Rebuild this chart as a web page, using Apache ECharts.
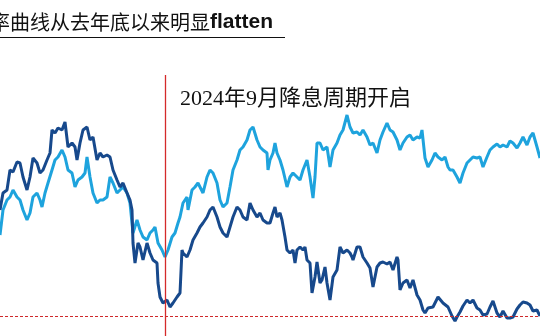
<!DOCTYPE html>
<html>
<head>
<meta charset="utf-8">
<script src="https://cdn.jsdelivr.net/npm/echarts@6/dist/echarts.min.js"></script>
<style>html,body{margin:0;padding:0;background:#fff;}#c{width:540px;height:336px;}</style>
</head>
<body>
<div id="c"></div>
<script>
// trading-day index and spread (bp)
var darkDays = [0,3,7,10,13,17,20,23,27,30,
33,37,40,43,47,50,52,55,58,62,
65,68,72,75,77,80,83,87,90,93,
97,100,103,107,110,113,117,120,123,127,
130,132,133,135,138,140,143,147,150,153,
157,158,160,163,167,170,173,177,180,182,
183,187,190,193,197,200,203,207,210,213,
217,220,223,227,230,233,237,240,243,247,
250,253,257,260,263,267,270,273,275,277,
280,282,285,287,290,293,295,297,300,303,
305,307,310,312,315,317,320,322,325,327,
330,333,337,340,343,347,350,352,353,357,
360,363,367,370,373,377,380,383,387,390,
393,397,398,400,403,407,410,413,417,420,
423,425,428,433,438,443,448,452,455,457,
460,463,467,470,473,475,477,480,483,487,
490,493,497,500,503,507,510,513,517,520,
523,527,530,533,537,540];
var darkSpread = [60,68.5,70,80,79,84,83.5,76.5,70,76.5,
86,83.5,78.5,80,85,88.5,100,98.5,101,100,
104,91.5,93.5,91.5,85,93.5,100,101.5,95,96.5,
85,88.5,86.5,87.5,86.5,80,75,71.5,73.5,68.5,
65,60,43.5,33.5,43.5,41.5,35,43.5,38.5,35,
33.5,23.5,16.5,13.5,15,11.5,13.5,16.5,18.5,40,
38.5,36.5,40,45,48.5,51.5,53.5,56.5,60,61.5,
56.5,51.5,48.5,46.5,51.5,56.5,61.5,60,56.5,55,
63.5,60,56.5,58.5,55,53.5,53.5,58.5,61.5,56.5,
58.5,55,46.5,40,38.5,40,33.5,40,41.5,40,
41.5,35,33.5,18.5,26.5,34,23.5,25,31.5,23.5,
15,26.5,30,41.5,38.5,40,38.5,36.5,35,41.5,
41.5,36.5,33.5,31,21.5,31.5,33.5,34,33,34,
30,36.5,35,20,23.5,25,21,25,17.5,15,
10,8.5,11,11.5,16.5,13.5,11.5,7,4.5,6.5,
9,12,15,13.5,15,15,11,10,7.5,8,
11.5,14.5,8.5,6.5,9.5,6,6,6.5,10.5,12.5,
14,13.5,12.5,9.5,10,7];
var lightDays = [0,3,7,10,13,17,20,23,27,30,
33,37,40,42,45,48,52,55,58,62,
65,68,72,75,78,82,85,87,90,93,
97,100,103,107,110,113,117,120,123,127,
130,133,137,140,143,147,150,153,155,158,
162,165,168,172,175,178,180,183,187,188,
192,195,198,200,203,207,210,213,217,220,
223,227,230,233,237,240,243,247,250,253,
257,260,263,267,268,270,273,275,277,280,
283,287,290,293,297,300,303,307,310,313,
315,317,320,323,327,330,333,337,340,343,
347,350,353,357,360,363,367,370,373,377,
380,383,387,390,393,397,400,403,407,410,
413,417,420,422,425,428,432,435,438,442,
445,448,450,453,457,460,463,467,470,473,
477,480,483,487,490,493,497,500,503,507,
510,513,517,520,523,527,530,533,537,540];
var lightSpread = [47.5,60,65,66.5,70,66.5,65,60,55,58.5,
66.5,68.5,65,61.5,68.5,73.5,80,85,86.5,90,
86.5,80,78.5,71.5,75,76.5,78.5,86.5,76.5,68.5,
63.5,65,65,66.5,76.5,73.5,68.5,70,71.5,68.5,
63.5,48.5,55,50,46.5,45,48.5,50,51.5,43.5,
40,36.5,40,46.5,48.5,53.5,56.5,63.5,66.5,60,
70,71.5,73.5,71.5,68.5,76.5,80,78.5,73.5,65,
61.5,63.5,71.5,80,85,90,91.5,95,100,101.5,
95,91.5,90,88.5,80,85,88.5,93.5,88.5,85,
80,71.5,76.5,78.5,76.5,75,80,85,76.5,66,
76.5,93.5,93.5,90,91.5,81.5,90,93.5,97.5,100,
107.5,101.5,98.5,99,97.5,100,96.5,92.5,93.5,88.5,
95,99,103.5,100,99,95,90,93.5,96.5,97.5,
95,96.5,96,100,86,81.5,85,88.5,86.5,85,
86.5,81.5,80,80,76.5,73.5,78.5,83.5,85,86.5,
86,86.5,81.5,86.5,90,91.5,93,91.5,92.5,91.5,
94.5,93.5,91,93.5,96.5,92.5,96.5,98.5,91.5,86];
var cutDay = 165;          // 2024年9月
var lowLevel = 7;          // red dashed reference level
var titleText = '率曲线从去年底以来明显';
var titleEn = 'flatten';
var noteText = '2024年9月降息周期开启';

function pairs(xs, ys){ return xs.map(function(x,i){ return [x, ys[i]]; }); }

var chart = echarts.init(document.getElementById('c'), null, {renderer:'canvas'});
chart.setOption({
  animation: false,
  backgroundColor: '#ffffff',
  grid: {left: 0, right: 0, top: 0, bottom: 0},
  xAxis: {type: 'value', min: 0, max: 540, show: false},
  yAxis: {type: 'value', min: -3, max: 165, show: false},
  series: [
    {
      type: 'line', data: pairs(lightDays, lightSpread), symbol: 'none',
      lineStyle: {color: '#1ea3dd', width: 3}, z: 2,
      markLine: {
        silent: true, symbol: 'none', label: {show: false},
        data: [
          [{coord: [cutDay, 127.5]}, {coord: [cutDay, -3]}]
        ],
        lineStyle: {color: '#d42a2a', width: 1.3, type: 'solid', opacity: 1}
      }
    },
    {
      type: 'line', data: pairs(darkDays, darkSpread), symbol: 'none',
      lineStyle: {color: '#17498c', width: 3}, z: 3,
      markLine: {
        silent: true, symbol: 'none', label: {show: false},
        data: [{yAxis: lowLevel}],
        lineStyle: {color: '#d0282a', width: 1, type: [3, 2], opacity: 1}
      }
    }
  ],
  graphic: [
    {
      type: 'text', left: -10, top: 12, z: 10,
      style: {
        rich: {
          cn: {fontFamily: '"Noto Sans CJK SC"', fontSize: 20, fill: '#111'},
          en: {fontFamily: '"Liberation Sans", Arial', fontSize: 21, fontWeight: 'bold', fill: '#111'}
        },
        text: '{cn|' + titleText + '}{en|' + titleEn + '}'
      }
    },
    {
      type: 'rect', shape: {x: 0, y: 37, width: 285, height: 1}, style: {fill: '#111'}, z: 10
    },
    {
      type: 'text', left: 180, top: 88, z: 10,
      style: {
        text: noteText,
        fontFamily: '"Liberation Serif", "Noto Sans CJK SC"',
        fontSize: 22, fill: '#111'
      }
    }
  ]
});
</script>
</body>
</html>
